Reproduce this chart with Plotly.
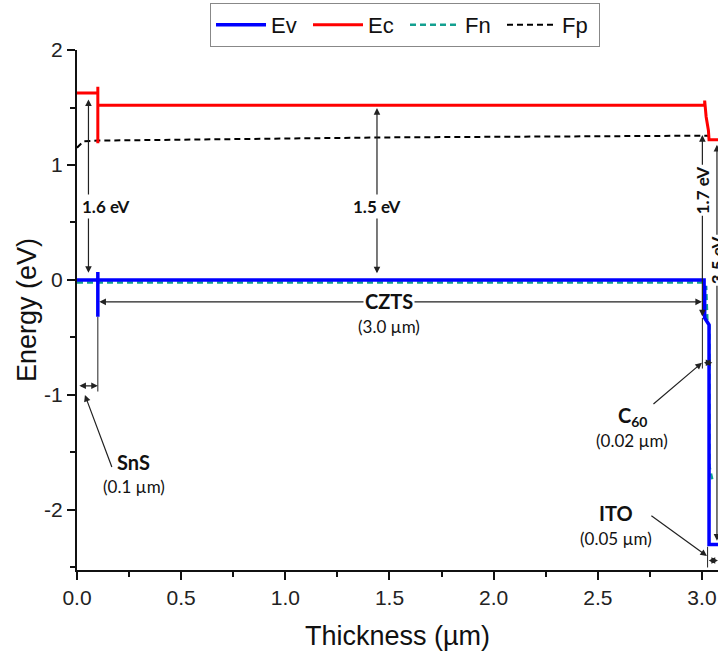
import plotly.graph_objects as go

# Band diagram of the SnS / CZTS / C60 / ITO stack (position in µm, energy in eV)
ev_x = [0.0, 0.1, 0.1, 0.1, 0.1, 3.013, 3.013, 3.034, 3.034, 3.08]
ev_y = [0.0, 0.0, 0.07, -0.32, 0.0, 0.0, -0.33, -0.39, -2.30, -2.30]

ec_x = [0.0, 0.1, 0.1, 0.1, 0.1, 3.013, 3.013, 3.015, 3.02, 3.031, 3.034, 3.08]
ec_y = [1.625, 1.625, 1.68, 1.19, 1.52, 1.52, 1.56, 1.52, 1.42, 1.30, 1.22, 1.22]

fn_x = [0.0, 3.016, 3.02, 3.026, 3.036, 3.036, 3.05]
fn_y = [-0.022, -0.022, -0.05, -0.36, -0.40, -1.62, -1.74]

fp_x = [0.0, 0.03, 0.1, 1.5, 3.013, 3.034]
fp_y = [1.15, 1.205, 1.212, 1.24, 1.255, 1.255]

series_names = ["Ev", "Ec", "Fn", "Fp"]
series_colors = ["#0000ff", "#ff0000", "#13a090", "#000000"]

x_ticks = [0.0, 0.5, 1.0, 1.5, 2.0, 2.5, 3.0]
x_tick_labels = ["0.0", "0.5", "1.0", "1.5", "2.0", "2.5", "3.0"]
y_ticks = [2, 1, 0, -1, -2]
y_tick_labels = ["2", "1", "0", "-1", "-2"]

# Layer labels and thicknesses
layer_names = ["SnS", "CZTS", "C<sub>60</sub>", "ITO"]
layer_thickness = ["(0.1 µm)", "(3.0 µm)", "(0.02 µm)", "(0.05 µm)"]
gap_labels = ["1.6 eV", "1.5 eV", "1.7 eV", "3.5 eV"]

fig = go.Figure()
# quasi-Fermi levels go underneath the band edges; legend keeps Ev, Ec, Fn, Fp order
fig.add_trace(go.Scatter(x=fn_x, y=fn_y, mode="lines", name=series_names[2], legendrank=3,
                         line=dict(color=series_colors[2], width=2.5, dash="6px,4px")))
fig.add_trace(go.Scatter(x=fp_x, y=fp_y, mode="lines", name=series_names[3], legendrank=4,
                         line=dict(color=series_colors[3], width=2, dash="6px,4px")))
fig.add_trace(go.Scatter(x=ev_x, y=ev_y, mode="lines", name=series_names[0], legendrank=1,
                         line=dict(color=series_colors[0], width=3.5)))
fig.add_trace(go.Scatter(x=ec_x, y=ec_y, mode="lines", name=series_names[1], legendrank=2,
                         line=dict(color=series_colors[1], width=3)))

ARROW = "#222222"
LABEL_FONT = "Lato, 'Open Sans', sans-serif"


def double_arrow(x0, y0, x1, y1):
    return dict(x=x1, y=y1, ax=x0, ay=y0, xref="x", yref="y", axref="x", ayref="y",
                text="", showarrow=True, arrowside="end+start", arrowhead=2,
                startarrowhead=2, arrowsize=1.1, startarrowsize=1.1, arrowwidth=1.2,
                arrowcolor=ARROW, standoff=0, startstandoff=0)


def pointer(x0, y0, x1, y1):
    return dict(x=x1, y=y1, ax=x0, ay=y0, xref="x", yref="y", axref="x", ayref="y",
                text="", showarrow=True, arrowhead=2, arrowsize=1.1, arrowwidth=1.2,
                arrowcolor=ARROW, standoff=0)


def label(x, y, text, size=16, bold=True, angle=0, bg=True):
    t = "<b>%s</b>" % text if bold else text
    return dict(x=x, y=y, xref="x", yref="y", text=t, showarrow=False, textangle=angle,
                font=dict(family=LABEL_FONT, size=size, color="#111111"),
                bgcolor="white" if bg else None, borderpad=1)


annotations = [
    # band gap arrows
    double_arrow(0.055, 0.05, 0.055, 1.57),
    double_arrow(1.44, 0.045, 1.44, 1.495),
    double_arrow(3.002, -0.33, 3.002, 1.26),
    double_arrow(3.072, -2.28, 3.072, 1.175),
    # layer thickness arrows
    double_arrow(0.1, -0.19, 3.0, -0.19),
    double_arrow(0.004, -0.92, 0.1, -0.92),
    double_arrow(3.002, -0.72, 3.05, -0.72),
    double_arrow(3.025, -2.44, 3.077, -2.44),
    # pointers from layer names
    pointer(0.17, -1.64, 0.038, -1.0),
    pointer(2.76, -1.09, 3.0, -0.72),
    pointer(2.75, -2.04, 3.024, -2.40),
    # text
    label(0.139, 0.635, gap_labels[0], size=17),
    label(1.44, 0.635, gap_labels[1], size=17),
    label(3.0, 0.78, gap_labels[2], size=17, angle=-90),
    label(3.076, 0.17, gap_labels[3], size=17, angle=-90),
    label(1.498, -0.185, layer_names[1], size=20),
    label(1.498, -0.405, layer_thickness[1], size=17, bold=False, bg=False),
    label(0.27, -1.585, layer_names[0], size=20, bg=False),
    label(0.275, -1.8, layer_thickness[0], size=17, bold=False, bg=False),
    label(2.665, -1.19, layer_names[2], size=20, bg=False),
    label(2.665, -1.395, layer_thickness[2], size=17, bold=False, bg=False),
    label(2.588, -2.03, layer_names[3], size=20, bg=False),
    label(2.588, -2.245, layer_thickness[3], size=17, bold=False, bg=False),
]

shapes = [
    dict(type="line", xref="x", yref="y", x0=0.1, x1=0.1, y0=-0.32, y1=-0.97,
         line=dict(color=ARROW, width=1)),
    dict(type="line", xref="x", yref="y", x0=3.002, x1=3.002, y0=-0.33, y1=-0.77,
         line=dict(color=ARROW, width=1)),
    dict(type="line", xref="x", yref="y", x0=3.027, x1=3.027, y0=-2.32, y1=-2.5,
         line=dict(color=ARROW, width=1)),
]

axis_font = dict(family="'Liberation Sans', Arial, sans-serif", size=21, color="#222222")

fig.update_layout(
    width=718, height=652,
    margin=dict(l=77, r=0, t=50, b=82, autoexpand=False),
    paper_bgcolor="white", plot_bgcolor="white",
    font=dict(family="'Liberation Sans', Arial, sans-serif", color="#111111"),
    showlegend=True,
    legend=dict(orientation="h", x=0.2075, y=1.0904, xanchor="left", yanchor="top",
                bgcolor="white", bordercolor="#888888", borderwidth=1,
                font=dict(size=22, color="#111111"),
                entrywidth=32, entrywidthmode="pixels", itemwidth=50,
                tracegroupgap=0),
    annotations=annotations,
    shapes=shapes,
    xaxis=dict(range=[0, 3.077], tickvals=x_ticks, ticktext=x_tick_labels,
               showgrid=False, zeroline=False, showline=True, linecolor="#111111",
               linewidth=2, ticks="outside", ticklen=8, tickwidth=2, tickcolor="#111111",
               tickfont=axis_font, automargin=False,
               minor=dict(dtick=0.25, tick0=0, ticks="outside", ticklen=5, tickwidth=1.5,
                          tickcolor="#111111", showgrid=False),
               title=dict(text="Thickness (µm)", standoff=18,
                          font=dict(size=27, color="#111111"))),
    yaxis=dict(range=[-2.522, 2.0], tickvals=y_ticks, ticktext=y_tick_labels,
               showgrid=False, zeroline=False, showline=True, linecolor="#111111",
               linewidth=2, ticks="outside", ticklen=8, tickwidth=2, tickcolor="#111111",
               tickfont=axis_font, automargin=False,
               minor=dict(dtick=0.5, tick0=0, ticks="outside", ticklen=5, tickwidth=1.5,
                          tickcolor="#111111", showgrid=False),
               title=dict(text="Energy (eV)", standoff=0,
                          font=dict(size=27, color="#111111"))),
)

fig.write_html("out.html")
